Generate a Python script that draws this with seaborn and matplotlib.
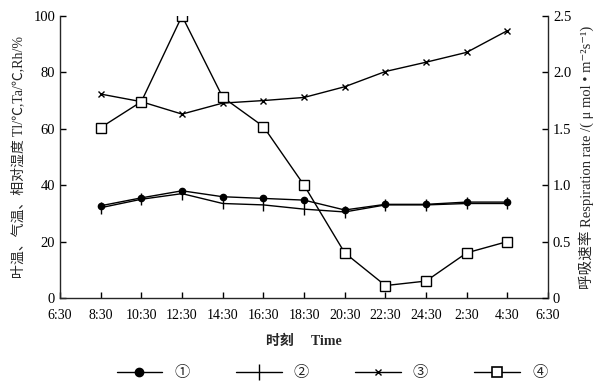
import numpy as np
import pandas as pd
import matplotlib
matplotlib.use("Agg")
import matplotlib.pyplot as plt
import seaborn as sns
from matplotlib.lines import Line2D

# time axis labels (6:30 .. 6:30 next morning); data run 8:30 .. 4:30
TICK_LABELS = ["6:30", "8:30", "10:30", "12:30", "14:30", "16:30", "18:30",
               "20:30", "22:30", "24:30", "2:30", "4:30", "6:30"]
TIMES = TICK_LABELS[1:12]

# left axis series
leaf_temp = [32.7, 35.5, 38.0, 35.9, 35.3, 34.7, 31.2, 33.2, 33.2, 34.0, 34.0]    # ①
air_temp = [32.0, 35.0, 37.0, 33.5, 33.0, 31.5, 30.5, 33.0, 33.0, 33.5, 33.5]     # ②
humidity = [72.3, 69.6, 65.2, 69.1, 70.0, 71.1, 74.9, 80.3, 83.6, 87.1, 94.8]     # ③
# right axis series
resp_rate = [1.51, 1.74, 2.50, 1.78, 1.52, 1.00, 0.40, 0.11, 0.15, 0.40, 0.50]    # ④

SERIES_LABELS = ["①", "②", "③", "④"]

sns.set_style("ticks")
plt.rcParams["font.family"] = ["Liberation Serif", "Noto Sans CJK SC", "DejaVu Sans"]
plt.rcParams["xtick.direction"] = "in"
plt.rcParams["ytick.direction"] = "in"
plt.rcParams["axes.linewidth"] = 1.0

df = pd.DataFrame({
    "pos": np.arange(1, 12),
    "time": TIMES,
    "leaf": leaf_temp,
    "air": air_temp,
    "rh": humidity,
    "resp": resp_rate,
})

fig = plt.figure(figsize=(6.09, 3.89), dpi=100)
ax = fig.add_axes([0.0985, 0.234, 0.8015, 0.725])
ax2 = ax.twinx()

kw = dict(color="black", linewidth=1.0, legend=False,
          markeredgecolor="black", markeredgewidth=1.0)
sns.lineplot(data=df, x="pos", y="leaf", marker="o", markersize=4.5, ax=ax, **kw)
sns.lineplot(data=df, x="pos", y="air", marker="|", markersize=9, ax=ax, **kw)
sns.lineplot(data=df, x="pos", y="rh", marker="x", markersize=5, ax=ax, **kw)
sns.lineplot(data=df, x="pos", y="resp", marker="s", markersize=7.5,
             markerfacecolor="white", ax=ax2, **kw)

ax.set_xlim(0, 12)
ax.set_ylim(0, 100)
ax2.set_ylim(0, 2.5)
ax.set_xticks(range(13))
ax.set_xticklabels(TICK_LABELS)
ax.set_yticks([0, 20, 40, 60, 80, 100])
ax2.set_yticks([0, 0.5, 1.0, 1.5, 2.0, 2.5])
ax2.set_yticklabels(["0", "0.5", "1.0", "1.5", "2.0", "2.5"])

for a in (ax, ax2):
    a.spines["top"].set_visible(False)
    a.tick_params(labelsize=10.5, length=4, width=1, colors="black")
ax.tick_params(axis="x", labelsize=10, pad=8)
ax.spines["right"].set_visible(False)
ax2.spines["left"].set_visible(False)
ax2.spines["bottom"].set_visible(False)

ax.set_xlabel("时刻     Time", fontsize=10, fontweight="bold", labelpad=9)
ax.set_ylabel("叶温、气温、相对湿度 Tl/℃,Ta/℃,Rh/%", fontsize=10, labelpad=6)
ax2.set_ylabel("呼吸速率 Respiration rate /( μ mol • m⁻²s⁻¹)",
               fontsize=10.5, labelpad=5)

handles = [
    Line2D([], [], color="black", lw=1, marker="o", markersize=6),
    Line2D([], [], color="black", lw=1, marker="|", markersize=12, markeredgewidth=1),
    Line2D([], [], color="black", lw=1, marker="x", markersize=5, markeredgewidth=1),
    Line2D([], [], color="black", lw=1, marker="s", markersize=7,
           markerfacecolor="white", markeredgewidth=1.2),
]
fig.legend(handles, SERIES_LABELS, loc="center", bbox_to_anchor=(0.545, 0.041),
           ncol=4, frameon=False, handlelength=3.0, handletextpad=0.8,
           columnspacing=3.0, fontsize=11)

fig.savefig("out.png", dpi=100)
